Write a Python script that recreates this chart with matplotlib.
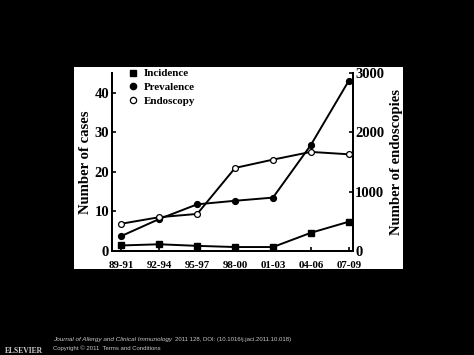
import matplotlib.pyplot as plt
from matplotlib.lines import Line2D

# data
periods = ['89-91', '92-94', '95-97', '98-00', '01-03', '04-06', '07-09']
incidence = [1.4, 1.7, 1.3, 1.0, 1.0, 4.6, 7.4]
prevalence = [3.8, 8.1, 11.8, 12.7, 13.5, 26.8, 43.0]
endoscopy = [460, 570, 625, 1400, 1540, 1670, 1630]

plt.rcParams['font.family'] = ['Liberation Serif', 'DejaVu Serif']
plt.rcParams['font.weight'] = 'bold'

fig = plt.figure(figsize=(4.74, 3.55), dpi=100)
fig.patch.set_facecolor('black')

# white panel behind the chart
bg = fig.add_axes([74 / 474, 1 - 269 / 355, 329 / 474, 202 / 355], zorder=-1)
bg.set_facecolor('white')
bg.set_xticks([])
bg.set_yticks([])
for s in bg.spines.values():
    s.set_visible(False)

ax = fig.add_axes([112 / 474, 1 - 251 / 355, 240.5 / 474, 178 / 355])
ax.patch.set_alpha(0)
ax2 = ax.twinx()

x = range(len(periods))
lw = 1.4
ax.plot(x, incidence, color='black', lw=lw, marker='s', ms=4, zorder=3)
ax.plot(x, prevalence, color='black', lw=lw, marker='o', ms=4.2, zorder=3)
ax2.plot(x, endoscopy, color='black', lw=lw, marker='o', ms=4.2,
         mfc='white', mec='black', mew=0.9)

ax.set_xlim(-0.25, 6.1)
ax.set_ylim(0, 45)
ax2.set_ylim(0, 3000)
ax.set_xticks(list(x))
ax.set_xticklabels(periods, fontsize=7.8, fontweight='bold')
ax.set_yticks([0, 10, 20, 30, 40])
ax2.set_yticks([0, 1000, 2000, 3000])
ax.tick_params(axis='y', labelsize=10.5, direction='in', length=3, width=1.2, pad=2)
ax.tick_params(axis='x', direction='in', length=3, width=1.2, pad=7)
ax2.tick_params(axis='y', labelsize=10.5, direction='in', length=3, width=1.2, pad=2)
for a in (ax, ax2):
    a.spines['top'].set_visible(False)
    for s in ('left', 'right', 'bottom'):
        a.spines[s].set_linewidth(1.4)
    for t in a.get_yticklabels():
        t.set_fontweight('bold')

ax.set_ylabel('Number of cases', fontsize=10.6, fontweight='bold', labelpad=2)
ax2.set_ylabel('Number of endoscopies', fontsize=10.6, fontweight='bold', labelpad=4)

handles = [
    Line2D([], [], ls='none', marker='s', ms=4, color='black'),
    Line2D([], [], ls='none', marker='o', ms=4.5, color='black'),
    Line2D([], [], ls='none', marker='o', ms=4.5, mfc='white', mec='black', mew=0.9),
]
fig.legend(handles, ['Incidence', 'Prevalence', 'Endoscopy'],
           loc='upper left', bbox_to_anchor=(120 / 474, 1 - 61 / 355),
           frameon=False, prop={'size': 7.9, 'weight': 'bold'},
           handlelength=1.0, handletextpad=0.5, labelspacing=0.36,
           borderpad=0.2)

# footer
foot = dict(color='#c8c8c8', family='Liberation Sans', weight='normal',
            va='center', ha='left')
fig.text(5 / 474, 1 - 351 / 355, 'ELSEVIER', color='#d0d0d0', fontsize=5.5,
         va='center', ha='left')
jt = fig.text(53 / 474, 1 - 339 / 355, 'Journal of Allergy and Clinical Immunology',
              style='italic', fontsize=4.6, **foot)
# put the rest of the citation right after the italic journal name
bb = jt.get_window_extent(renderer=fig.canvas.get_renderer())
fig.text((bb.x1 + 2.5) / 474, 1 - 339 / 355, '2011 128, DOI: (10.1016/j.jaci.2011.10.018)',
         fontsize=4.3, **foot)
fig.text(53 / 474, 1 - 348 / 355, 'Copyright © 2011  Terms and Conditions',
         fontsize=4.3, **foot)

fig.savefig('out.png', dpi=100, facecolor='black')
